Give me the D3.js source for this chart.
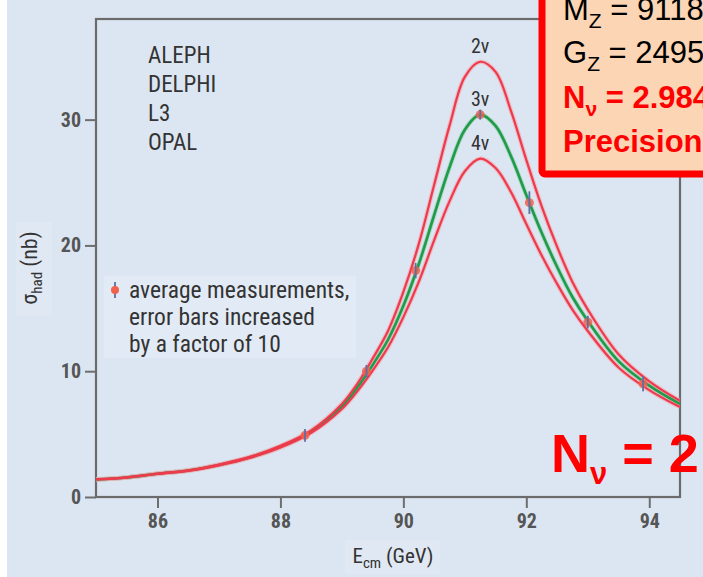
<!DOCTYPE html>
<html>
<head>
<meta charset="utf-8">
<script src="https://cdn.jsdelivr.net/npm/d3@7"></script>
<style>
  html, body { margin: 0; padding: 0; background: #ffffff; }
  svg { display: block; }
  .narrow { font-family: "Liberation Sans Narrow", "Arial Narrow", "Roboto Condensed", sans-serif; font-stretch: condensed; }
  .box { font-family: "Liberation Sans", Arial, sans-serif; }
</style>
</head>
<body>
<svg id="chart" width="703" height="577"></svg>
<script>
// Centre-of-mass energy grid (GeV) for the line-shape curves
const energies = [85, 85.5, 86, 86.5, 87, 87.5, 88, 88.5, 89, 89.25, 89.5, 89.75, 90, 90.25,
                  90.5, 90.75, 91, 91.25, 91.5, 91.75, 92, 92.25, 92.5, 92.75, 93, 93.5, 94, 94.5];
// Hadronic cross section (nb) for 2, 3 and 4 light neutrino species
const sigma2nu = [1.41, 1.56, 1.87, 2.12, 2.58, 3.19, 4.07, 5.3, 7.4, 9.0, 11.0, 13.2, 16.3, 20.1,
                  24.8, 29.5, 33.4, 34.6, 33.8, 30.7, 26.8, 23.1, 19.9, 17.1, 14.9, 11.35, 9.2, 7.65];
const sigma3nu = [1.4, 1.55, 1.85, 2.1, 2.55, 3.15, 4.0, 5.2, 7.2, 8.7, 10.5, 12.5, 15.2, 18.5,
                  22.4, 26.2, 29.2, 30.4, 29.5, 27.1, 24.0, 21.0, 18.3, 15.9, 14.0, 10.8, 8.85, 7.4];
const sigma4nu = [1.39, 1.54, 1.83, 2.08, 2.52, 3.11, 3.93, 5.1, 7.0, 8.4, 10.05, 11.9, 14.3, 17.1,
                  20.4, 23.5, 25.9, 26.9, 26.15, 24.25, 21.7, 19.2, 16.95, 14.9, 13.2, 10.3, 8.5, 7.15];

// Averaged LEP measurements (error bars enlarged x10)
const measEnergy = [88.4, 89.4, 90.2, 91.25, 92.05, 93.0, 93.9];
const measSigma  = [4.9, 10.0, 18.0, 30.4, 23.4, 13.9, 9.0];
const measError  = [0.5, 0.5, 0.6, 0.4, 0.9, 0.5, 0.6];

const xTicks = [86, 88, 90, 92, 94];
const yTicks = [0, 10, 20, 30];
const experiments = ["ALEPH", "DELPHI", "L3", "OPAL"];
const curveLabels = ["2ν", "3ν", "4ν"];
const noteLines = ["average measurements,", "error bars increased", "by a factor of 10"];

const svg = d3.select("#chart");
const W = 703, H = 577;
const plot = { left: 96, right: 680, top: 19, bottom: 497 };

// page background
svg.append("rect").attr("x", 7).attr("y", 0).attr("width", W - 7).attr("height", H)
  .attr("fill", "#dce6f2");

const x = d3.scaleLinear().domain([85, 94.5]).range([plot.left, plot.right]);
const y = d3.scaleLinear().domain([0, 38]).range([plot.bottom, plot.top]);

// faint panels behind the annotation texts
svg.append("rect").attr("x", 104).attr("y", 276).attr("width", 252).attr("height", 82)
  .attr("fill", "#e2eaf5");
svg.append("rect").attr("x", 16).attr("y", 222).attr("width", 36).attr("height", 94)
  .attr("fill", "#e0e8f3");
svg.append("rect").attr("x", 345).attr("y", 540).attr("width", 95).attr("height", 34)
  .attr("fill", "#e0e8f3");

// axes
const yAxis = d3.axisLeft(y).tickValues(yTicks).tickSize(11).tickPadding(4).tickFormat(d3.format("d"));
const xAxis = d3.axisBottom(x).tickValues(xTicks).tickSize(11).tickPadding(6).tickFormat(d3.format("d"));

const gy = svg.append("g").attr("transform", `translate(${plot.left},0)`).call(yAxis);
const gx = svg.append("g").attr("transform", `translate(0,${plot.bottom})`).call(xAxis);
[gx, gy].forEach(g => {
  g.select(".domain").remove();
  g.selectAll(".tick line").attr("stroke", "#6e6e6e").attr("stroke-width", 2);
  g.selectAll(".tick text").attr("class", "narrow").attr("fill", "#555")
    .style("font-size", "20px").style("font-weight", "bold");
});

// plot frame
svg.append("rect").attr("x", plot.left).attr("y", plot.top)
  .attr("width", plot.right - plot.left).attr("height", plot.bottom - plot.top)
  .attr("fill", "none").attr("stroke", "#6b6b6b").attr("stroke-width", 2.2);

// clip for curves
svg.append("clipPath").attr("id", "plotclip").append("rect")
  .attr("x", plot.left).attr("y", plot.top)
  .attr("width", plot.right - plot.left).attr("height", plot.bottom - plot.top);

const line = d3.line()
  .x((d, i) => x(energies[i]))
  .y(d => y(d))
  .curve(d3.curveCatmullRom);

const curves = svg.append("g").attr("clip-path", "url(#plotclip)");
// soft halo under each curve
[sigma3nu, sigma2nu, sigma4nu].forEach((s, k) => {
  curves.append("path").datum(s).attr("d", line).attr("fill", "none")
    .attr("stroke", k === 0 ? "#8fcf9f" : "#f4a5ae").attr("stroke-width", 4.5).attr("opacity", 0.6);
});
curves.append("path").datum(sigma3nu).attr("d", line).attr("fill", "none")
  .attr("stroke", "#1f9b4b").attr("stroke-width", 2.6);
[sigma2nu, sigma4nu].forEach(s => {
  curves.append("path").datum(s).attr("d", line).attr("fill", "none")
    .attr("stroke", "#ee3a4c").attr("stroke-width", 2.2);
});

// measurements
const meas = svg.append("g");
measEnergy.forEach((e, i) => {
  meas.append("circle").attr("cx", x(e)).attr("cy", y(measSigma[i])).attr("r", 4.5)
    .attr("fill", "#f2604e").attr("opacity", 0.85);
  meas.append("line").attr("x1", x(e)).attr("x2", x(e))
    .attr("y1", y(measSigma[i] - measError[i])).attr("y2", y(measSigma[i] + measError[i]))
    .attr("stroke", "#5b6fa6").attr("stroke-width", 1.8);
});

// curve labels above each peak
const peakE = 91.25;
[sigma2nu, sigma3nu, sigma4nu].forEach((s, k) => {
  svg.append("text").attr("class", "narrow")
    .attr("x", x(peakE)).attr("y", y(s[energies.indexOf(peakE)]) - 9)
    .attr("text-anchor", "middle").attr("fill", "#333")
    .style("font-size", "20px").text(curveLabels[k]);
});

// experiment list
experiments.forEach((name, i) => {
  svg.append("text").attr("class", "narrow").attr("x", 148).attr("y", 63 + i * 29)
    .attr("fill", "#333").style("font-size", "23px").text(name);
});

// legend for measurements
svg.append("line").attr("x1", 115).attr("x2", 115).attr("y1", 282).attr("y2", 298)
  .attr("stroke", "#5b6fa6").attr("stroke-width", 1.8);
svg.append("circle").attr("cx", 115).attr("cy", 290).attr("r", 4).attr("fill", "#f2604e");
noteLines.forEach((t, i) => {
  svg.append("text").attr("class", "narrow").attr("x", 129).attr("y", 298 + i * 27)
    .attr("fill", "#333").style("font-size", "23.5px").text(t);
});

// axis titles
const xt = svg.append("text").attr("class", "narrow").attr("x", 393).attr("y", 563)
  .attr("text-anchor", "middle").attr("fill", "#333").style("font-size", "21px");
xt.append("tspan").text("E");
xt.append("tspan").attr("dy", 5).style("font-size", "15px").text("cm");
xt.append("tspan").attr("dy", -5).text(" (GeV)");

const yt = svg.append("text").attr("class", "narrow")
  .attr("transform", "translate(37,268) rotate(-90)")
  .attr("text-anchor", "middle").attr("fill", "#333").style("font-size", "22px");
yt.append("tspan").text("σ");
yt.append("tspan").attr("dy", 5).style("font-size", "15px").text("had");
yt.append("tspan").attr("dy", -5).text(" (nb)");

// results box
svg.append("rect").attr("x", 542).attr("y", -20).attr("width", 200).attr("height", 194)
  .attr("rx", 3).attr("fill", "#fcd5b5").attr("stroke", "#ff0000").attr("stroke-width", 7);

function boxLine(yPos, main, sub, rest, color, bold) {
  const t = svg.append("text").attr("class", "box").attr("x", 563).attr("y", yPos)
    .attr("fill", color).style("font-size", "31px").style("font-weight", bold ? "bold" : "normal");
  t.append("tspan").text(main);
  t.append("tspan").attr("dy", 8).style("font-size", "21px").text(sub);
  t.append("tspan").attr("dy", -8).text(rest);
}
boxLine(20, "M", "Z", " = 91188 MeV", "#000", false);
boxLine(63, "G", "Z", " = 2495 MeV", "#000", false);
boxLine(108, "N", "ν", " = 2.984", "#ff0000", true);
svg.append("text").attr("class", "box").attr("x", 563).attr("y", 152).attr("fill", "#ff0000")
  .style("font-size", "31px").style("font-weight", "bold").text("Precision");

// big neutrino count label
const big = svg.append("text").attr("class", "box").attr("x", 551).attr("y", 472)
  .attr("fill", "#ff0000").style("font-size", "54px").style("font-weight", "bold");
big.append("tspan").text("N");
big.append("tspan").attr("dy", 12).style("font-size", "31px").text("ν");
big.append("tspan").attr("dy", -12).text(" = 2");
</script>
</body>
</html>
